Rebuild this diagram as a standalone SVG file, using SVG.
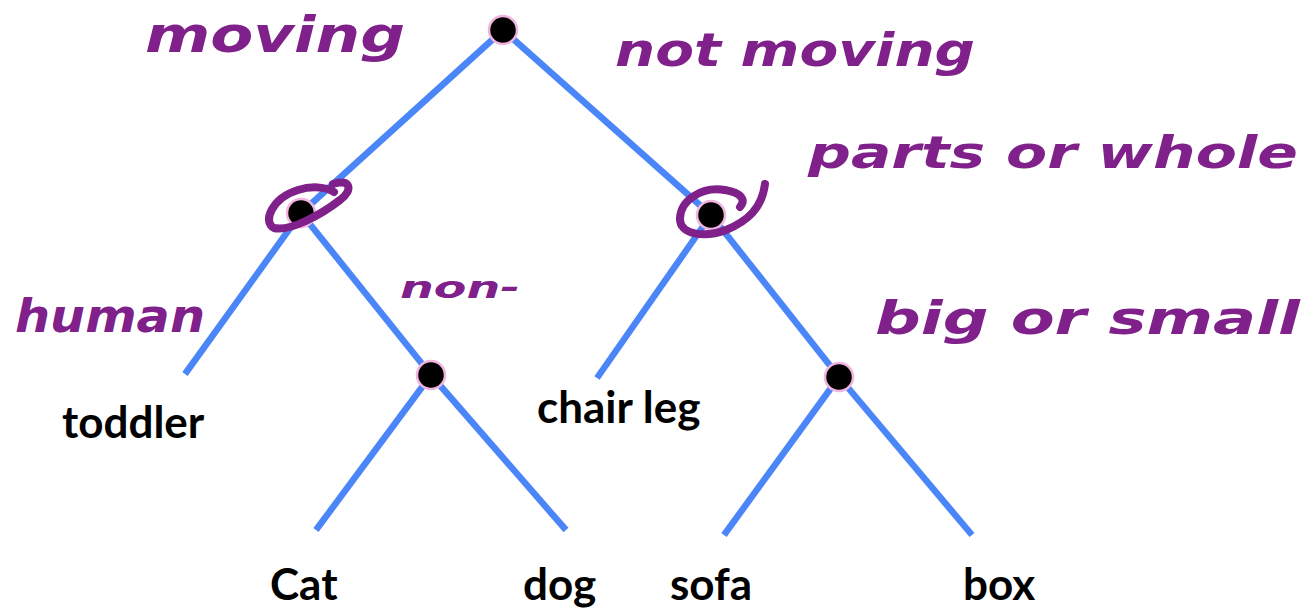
<svg xmlns="http://www.w3.org/2000/svg" width="1305" height="610" viewBox="0 0 1305 610">
<style>
.edge{stroke:#4a86f8;stroke-width:6.5;fill:none;stroke-linecap:butt}
.dot{fill:#000;stroke:#f2b3e0;stroke-width:2.5}
.lbl{font-family:Lato,"Open Sans",sans-serif;font-weight:bold;font-size:44px;fill:#000}
.hw{font-family:"DejaVu Sans",sans-serif;font-style:oblique;font-weight:bold;fill:#80208a}
.ink{fill:none;stroke:#80208a;stroke-width:8;stroke-linecap:round;stroke-linejoin:round}
</style>
<rect width="1305" height="610" fill="#fff"/>
<g id="connectors">
<line class="edge" x1="503" y1="30" x2="301" y2="213"/>
<line class="edge" x1="503" y1="30" x2="711" y2="215"/>
<line class="edge" x1="301" y1="213" x2="185" y2="374"/>
<line class="edge" x1="301" y1="213" x2="431" y2="375"/>
<line class="edge" x1="431" y1="375" x2="316" y2="530"/>
<line class="edge" x1="431" y1="375" x2="566" y2="530"/>
<line class="edge" x1="711" y1="215" x2="597" y2="378"/>
<line class="edge" x1="711" y1="215" x2="839" y2="377"/>
<line class="edge" x1="839" y1="377" x2="724" y2="535"/>
<line class="edge" x1="839" y1="377" x2="972" y2="535"/>
</g>
<g id="root"><circle class="dot" cx="503" cy="30" r="14"/></g>
<g id="moving-node"><circle class="dot" cx="301" cy="213" r="14"/></g>
<g id="notmoving-node"><circle class="dot" cx="711" cy="215" r="14"/></g>
<g id="nonhuman-node"><circle class="dot" cx="431" cy="375" r="14"/></g>
<g id="whole-node"><circle class="dot" cx="839" cy="377" r="14"/></g>
<g id="toddler"><text class="lbl" x="62" y="438">toddler</text></g>
<g id="chairleg"><text class="lbl" x="537" y="423">chair leg</text></g>
<g id="cat"><text class="lbl" x="270" y="600">Cat</text></g>
<g id="dog"><text class="lbl" x="523" y="600">dog</text></g>
<g id="sofa"><text class="lbl" x="670" y="600">sofa</text></g>
<g id="box"><text class="lbl" x="963" y="600">box</text></g>
<g id="annotations">
<path class="ink" d="M 333 184 C 350 178, 354 190, 340 200 C 322 214, 290 232, 274 228 C 262 222, 272 198, 298 190 C 314 185, 328 188, 334 192"/>
<path class="ink" d="M 740 207 C 746 200, 742 193, 725 190 C 702 186, 681 200, 680 218 C 679 235, 705 238, 726 230 C 748 221, 762 208, 765 184"/>
<text class="hw" x="145" y="52" font-size="50" textLength="260" lengthAdjust="spacingAndGlyphs">moving</text>
<text class="hw" x="615" y="66" font-size="46" textLength="360" lengthAdjust="spacingAndGlyphs">not moving</text>
<text class="hw" x="808" y="168" font-size="44" textLength="490" lengthAdjust="spacingAndGlyphs">parts or whole</text>
<text class="hw" x="15" y="332" font-size="46" textLength="190" lengthAdjust="spacingAndGlyphs">human</text>
<text class="hw" x="400" y="298" font-size="30" textLength="120" lengthAdjust="spacingAndGlyphs">non-</text>
<text class="hw" x="875" y="334" font-size="46" textLength="425" lengthAdjust="spacingAndGlyphs">big or small</text>
</g>
</svg>
